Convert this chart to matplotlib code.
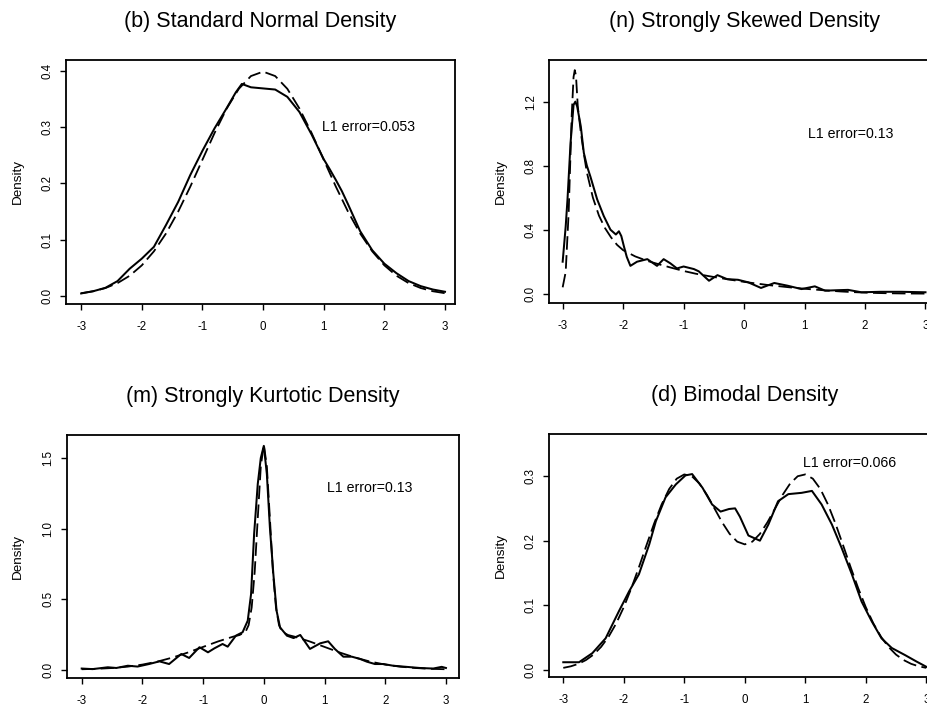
import matplotlib
matplotlib.use("Agg")
import matplotlib.pyplot as plt

plt.rcParams['font.family'] = ['Liberation Sans', 'DejaVu Sans']

# ---------------- data ----------------
# (b) Standard normal
normal_true_x = [-3.0, -2.8, -2.6, -2.4, -2.2, -2.0, -1.8, -1.6, -1.4, -1.2, -1.0, -0.8, -0.6, -0.4, -0.2, 0.0,
                 0.2, 0.4, 0.6, 0.8, 1.0, 1.2, 1.4, 1.6, 1.8, 2.0, 2.2, 2.4, 2.6, 2.8, 3.0]
normal_true = [0.0044, 0.0079, 0.0136, 0.0224, 0.0355, 0.0540, 0.0790, 0.1109, 0.1497, 0.1942, 0.2420, 0.2897,
               0.3332, 0.3683, 0.3910, 0.3989, 0.3910, 0.3683, 0.3332, 0.2897, 0.2420, 0.1942, 0.1497, 0.1109,
               0.0790, 0.0540, 0.0355, 0.0224, 0.0136, 0.0079, 0.0044]
normal_est_x = [-3.0, -2.8, -2.6, -2.4, -2.2, -2.0, -1.8, -1.6, -1.4, -1.2, -1.0, -0.8, -0.6, -0.45, -0.35, -0.2,
                0.0, 0.2, 0.4, 0.6, 0.8, 1.0, 1.1, 1.2, 1.3, 1.4, 1.6, 1.8, 2.0, 2.2, 2.4, 2.6, 2.8, 3.0]
normal_est = [0.004, 0.008, 0.014, 0.026, 0.048, 0.066, 0.087, 0.126, 0.167, 0.215, 0.258, 0.298, 0.334, 0.362,
              0.377, 0.371, 0.369, 0.367, 0.354, 0.327, 0.287, 0.243, 0.225, 0.206, 0.186, 0.163, 0.115, 0.081,
              0.057, 0.040, 0.026, 0.017, 0.011, 0.007]

# (n) Strongly skewed
skew_true_x = [-3.0, -2.95, -2.9, -2.85, -2.82, -2.8, -2.78, -2.75, -2.7, -2.65, -2.6, -2.5, -2.4, -2.3, -2.2,
               -2.1, -2.0, -1.8, -1.6, -1.4, -1.2, -1.0, -0.8, -0.6, -0.4, -0.2, 0.0, 0.2, 0.4, 0.6, 0.8, 1.0,
               1.2, 1.4, 1.6, 1.8, 2.0, 2.2, 2.4, 2.6, 2.8, 3.0]
skew_true = [0.04, 0.136, 0.515, 1.118, 1.354, 1.397, 1.363, 1.17, 1.008, 0.875, 0.758, 0.60, 0.488, 0.41, 0.352,
             0.305, 0.272, 0.233, 0.205, 0.183, 0.162, 0.142, 0.125, 0.111, 0.098, 0.086, 0.074, 0.064, 0.054,
             0.046, 0.038, 0.031, 0.025, 0.019, 0.014, 0.010, 0.007, 0.0044, 0.0028, 0.0017, 0.0010, 0.0006]
skew_est_x = [-3.0, -2.95, -2.92, -2.87, -2.82, -2.79, -2.76, -2.70, -2.65, -2.60, -2.54, -2.43, -2.32, -2.21,
              -2.12, -2.07, -2.03, -1.99, -1.94, -1.88, -1.77, -1.60, -1.44, -1.33, -1.22, -1.11, -1.00, -0.83,
              -0.75, -0.58, -0.44, -0.28, -0.10, 0.07, 0.28, 0.50, 0.72, 0.95, 1.17, 1.34, 1.55, 1.72, 1.94,
              2.25, 2.6, 3.0]
skew_est = [0.20, 0.42, 0.59, 0.94, 1.18, 1.20, 1.17, 1.045, 0.88, 0.80, 0.73, 0.59, 0.485, 0.40, 0.37, 0.39,
            0.36, 0.30, 0.23, 0.174, 0.20, 0.216, 0.174, 0.216, 0.19, 0.158, 0.17, 0.154, 0.14, 0.081, 0.116,
            0.091, 0.087, 0.071, 0.036, 0.067, 0.05, 0.029, 0.046, 0.019, 0.022, 0.024, 0.009, 0.012, 0.012,
            0.009]

# (m) Strongly kurtotic
kurt_true_x = [-3.0, -2.75, -2.5, -2.25, -2.0, -1.75, -1.5, -1.25, -1.0, -0.75, -0.5, -0.4, -0.3, -0.25, -0.2,
               -0.15, -0.1, -0.05, 0.0, 0.05, 0.1, 0.15, 0.2, 0.25, 0.3, 0.4, 0.5, 0.75, 1.0, 1.25, 1.5, 1.75,
               2.0, 2.25, 2.5, 2.75, 3.0]
kurt_true = [0.003, 0.0061, 0.0117, 0.0211, 0.036, 0.0575, 0.0863, 0.1217, 0.1613, 0.2007, 0.2347, 0.2455,
             0.269, 0.316, 0.441, 0.695, 1.072, 1.439, 1.596, 1.439, 1.072, 0.695, 0.441, 0.316, 0.269, 0.2455,
             0.2347, 0.2007, 0.1613, 0.1217, 0.0863, 0.0575, 0.036, 0.0211, 0.0117, 0.0061, 0.003]
kurt_est_x = [-3.0, -2.82, -2.57, -2.43, -2.24, -2.08, -1.89, -1.72, -1.56, -1.36, -1.23, -1.06, -0.92, -0.815,
              -0.68, -0.595, -0.46, -0.35, -0.265, -0.21, -0.16, -0.10, -0.05, 0.0, 0.05, 0.10, 0.157, 0.21,
              0.267, 0.38, 0.49, 0.60, 0.76, 0.93, 1.06, 1.17, 1.31, 1.45, 1.585, 1.695, 1.83, 1.97, 2.13,
              2.35, 2.57, 2.79, 2.93, 3.0]
kurt_est = [0.008, 0.004, 0.017, 0.012, 0.028, 0.022, 0.040, 0.059, 0.040, 0.111, 0.083, 0.159, 0.123, 0.151,
            0.182, 0.163, 0.241, 0.265, 0.347, 0.536, 0.96, 1.315, 1.50, 1.586, 1.386, 1.008, 0.678, 0.418,
            0.30, 0.241, 0.224, 0.246, 0.147, 0.187, 0.201, 0.147, 0.092, 0.092, 0.076, 0.057, 0.04, 0.04,
            0.028, 0.02, 0.012, 0.008, 0.02, 0.012]

# (d) Bimodal
bim_true_x = [-3.0, -2.875, -2.75, -2.625, -2.5, -2.375, -2.25, -2.125, -2.0, -1.875, -1.75, -1.625, -1.5,
              -1.375, -1.25, -1.125, -1.0, -0.875, -0.75, -0.625, -0.5, -0.375, -0.25, -0.125, 0.0, 0.125, 0.25,
              0.375, 0.5, 0.625, 0.75, 0.875, 1.0, 1.125, 1.25, 1.375, 1.5, 1.625, 1.75, 1.875, 2.0, 2.125,
              2.25, 2.375, 2.5, 2.625, 2.75, 2.875, 3.0]
bim_true = [0.0033, 0.0057, 0.0095, 0.0154, 0.0238, 0.0357, 0.0516, 0.0721, 0.0972, 0.1265, 0.1589, 0.1929,
            0.2262, 0.2559, 0.2799, 0.2959, 0.3025, 0.2997, 0.2884, 0.2708, 0.2497, 0.2285, 0.2105, 0.1985,
            0.1943, 0.1985, 0.2105, 0.2285, 0.2497, 0.2708, 0.2884, 0.2997, 0.3025, 0.2959, 0.2799, 0.2559,
            0.2262, 0.1929, 0.1589, 0.1265, 0.0972, 0.0721, 0.0516, 0.0357, 0.0238, 0.0154, 0.0095, 0.0057,
            0.0033]
bim_est_x = [-3.0, -2.74, -2.52, -2.30, -2.08, -1.91, -1.75, -1.58, -1.47, -1.31, -1.14, -0.98, -0.87, -0.70,
             -0.54, -0.40, -0.26, -0.16, -0.08, 0.06, 0.25, 0.39, 0.55, 0.72, 0.94, 1.11, 1.27, 1.44, 1.60,
             1.77, 1.93, 2.10, 2.26, 2.43, 2.65, 2.84, 3.0]
bim_est = [0.012, 0.012, 0.026, 0.049, 0.091, 0.122, 0.148, 0.194, 0.230, 0.267, 0.287, 0.301, 0.303, 0.282,
           0.256, 0.245, 0.249, 0.250, 0.237, 0.208, 0.200, 0.225, 0.261, 0.272, 0.274, 0.277, 0.256, 0.225,
           0.189, 0.148, 0.106, 0.075, 0.049, 0.034, 0.023, 0.013, 0.005]

titles = ["(b) Standard Normal Density", "(n) Strongly Skewed Density",
          "(m) Strongly Kurtotic Density", "(d) Bimodal Density"]
errors = ["L1 error=0.053", "L1 error=0.13", "L1 error=0.13", "L1 error=0.066"]
x_ticks = [-3, -2, -1, 0, 1, 2, 3]
x_tick_labels = ["-3", "-2", "-1", "0", "1", "2", "3"]
y_ticks = [[0.0, 0.1, 0.2, 0.3, 0.4], [0.0, 0.4, 0.8, 1.2], [0.0, 0.5, 1.0, 1.5], [0.0, 0.1, 0.2, 0.3]]
y_tick_labels = [["0.0", "0.1", "0.2", "0.3", "0.4"], ["0.0", "0.4", "0.8", "1.2"],
                 ["0.0", "0.5", "1.0", "1.5"], ["0.0", "0.1", "0.2", "0.3"]]
error_pos = [(1.74, 0.30), (1.76, 1.0), (1.75, 1.29), (1.735, 0.32)]

series = [(normal_true_x, normal_true, normal_est_x, normal_est),
          (skew_true_x, skew_true, skew_est_x, skew_est),
          (kurt_true_x, kurt_true, kurt_est_x, kurt_est),
          (bim_true_x, bim_true, bim_est_x, bim_est)]

# ---------------- layout (pixels in a 928x706 figure) ----------------
W, H = 928.0, 706.0
boxes = [(66.0, 60.0, 455.0, 304.0), (549.0, 60.0, 940.0, 303.0),
         (66.7, 434.7, 459.3, 678.0), (549.0, 434.0, 940.8, 677.3)]
xlims = [(-3.25, 3.165), (-3.226, 3.24), (-3.247, 3.22), (-3.236, 3.24)]
ylims = [(-0.0148, 0.4196), (-0.058, 1.46), (-0.059, 1.665), (-0.0113, 0.365)]

fig = plt.figure(figsize=(W / 100, H / 100), dpi=100)

for i in range(4):
    l, t, r, b = boxes[i]
    ax = fig.add_axes([l / W, (H - b) / H, (r - l) / W, (b - t) / H])
    tx, ty, ex, ey = series[i]
    ax.plot(tx, ty, color='black', lw=1.3, linestyle=(0, (7.5, 3)), dash_capstyle='butt')
    ax.plot(ex, ey, color='black', lw=1.45, solid_joinstyle='round')
    ax.set_xlim(*xlims[i])
    ax.set_ylim(*ylims[i])
    ax.set_xticks(x_ticks)
    ax.set_xticklabels(x_tick_labels)
    ax.set_yticks(y_ticks[i])
    ax.set_yticklabels(y_tick_labels[i], rotation=90, va='center')
    ax.tick_params(axis='both', direction='out', length=4.3, width=1.0, labelsize=8.3, color='black')
    ax.tick_params(axis='x', pad=8.0)
    ax.tick_params(axis='y', pad=4.5)
    for s in ax.spines.values():
        s.set_linewidth(1.3)
    ax.set_ylabel("Density", fontsize=9.7, va='center')
    ax.yaxis.set_label_coords(-48.5 / (r - l), 0.5)
    ax.text(0.5, 1 + 38.0 / (b - t), titles[i], transform=ax.transAxes, ha='center', va='center',
            fontsize=15.5)
    ex_, ey_ = error_pos[i]
    ax.text(ex_, ey_, errors[i], ha='center', va='center', fontsize=10.2)

fig.savefig("out.png", dpi=100)
